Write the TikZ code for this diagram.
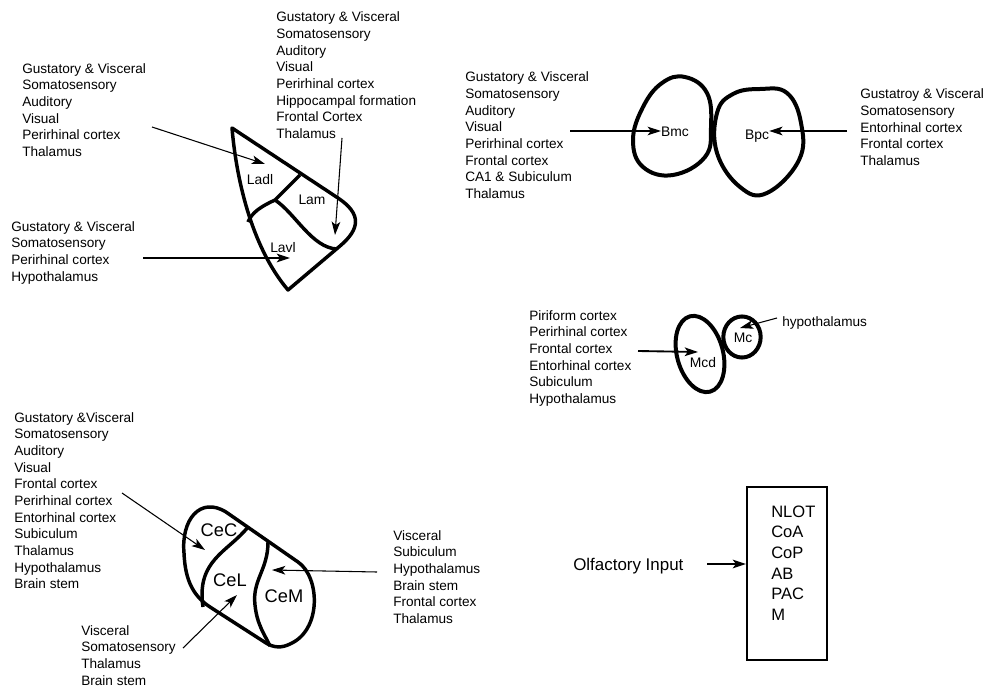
\documentclass[tikz,border=0pt]{standalone}
\usepackage{fontspec}
\setmainfont{Liberation Sans}
\usetikzlibrary{arrows.meta}
\newcommand{\mystack}[1]{\begin{tabular}[t]{@{}l@{}}#1\end{tabular}}
\begin{document}
\begin{tikzpicture}[x=0.75pt,y=-0.75pt,
  txt/.style={anchor=base west, inner sep=0pt, font=\fontsize{10.2pt}{12.5pt}\selectfont},
  boxtxt/.style={anchor=base west, inner sep=0pt, font=\fontsize{12.4pt}{15.5pt}\selectfont},
  lab/.style={inner sep=0pt, font=\fontsize{10.4pt}{12pt}\selectfont},
  celab/.style={inner sep=0pt, font=\fontsize{13.7pt}{16pt}\selectfont},
  arr/.style={-{Stealth[length=10pt,width=6.5pt,inset=2.5pt]}, line width=0.8pt},
  nucleus/.style={line width=2.6pt, line join=round},
  oval/.style={line width=3pt}]
\useasboundingbox (0,0) rectangle (984,688);

% ---------------- Lateral nucleus ----------------
\node[txt] (latA) at (22,73.3) {\mystack{Gustatory \& Visceral\\Somatosensory\\Auditory\\Visual\\Perirhinal cortex\\Thalamus}};
\node[txt] (latB) at (276,21.7) {\mystack{Gustatory \& Visceral\\Somatosensory\\Auditory\\Visual\\Perirhinal cortex\\Hippocampal formation\\Frontal Cortex\\Thalamus}};
\node[txt] (latC) at (11,231) {\mystack{Gustatory \& Visceral\\Somatosensory\\Perirhinal cortex\\Hypothalamus}};

\draw[nucleus] (232,128) -- (338,198) .. controls (362,214) and (360,229) .. (340,246)
  -- (288,290) .. controls (250,245) and (236,175) .. (232,128) -- cycle;
\draw[nucleus] (300,175) -- (275,200) .. controls (262,206) and (252,212) .. (248,222);
\draw[nucleus] (275,200) .. controls (295,213) and (312,248) .. (337,249);

\node[lab] (ladl) at (260,180) {Ladl};
\node[lab] (lam) at (312,200) {Lam};
\node[lab] (lavl) at (283,248) {Lavl};

\coordinate (a1s) at (152,127); \coordinate (a1e) at (265,164);
\coordinate (a2s) at (342,138); \coordinate (a2e) at (335,235);
\coordinate (a3s) at (143,258); \coordinate (a3e) at (290,258);
\draw[arr] (a1s) -- (a1e);
\draw[arr] (a2s) -- (a2e);
\draw[arr] (a3s) -- (a3e);

% ---------------- Basal nucleus ----------------
\node[txt] (basL) at (465,81.7) {\mystack{Gustatory \& Visceral\\Somatosensory\\Auditory\\Visual\\Perirhinal cortex\\Frontal cortex\\CA1 \& Subiculum\\Thalamus}};
\node[txt] (basR) at (860,99) {\mystack{Gustatroy \& Visceral\\Somatosensory\\Entorhinal cortex\\Frontal cortex\\Thalamus}};

\draw[oval] plot[smooth cycle, tension=0.7] coordinates {(685,77) (707,93) (711,127) (705,157) (673,175) (643,167) (633,140) (643,107) (662,83)};
\draw[oval] plot[smooth cycle, tension=0.7] coordinates {(760,89) (787,93) (801,123) (799,160) (767,193) (740,187) (717,153) (717,113) (733,94)};

\node[lab] (bmc) at (675,132) {Bmc};
\node[lab] (bpc) at (757,136) {Bpc};
\coordinate (bmcs) at (570,131);
\coordinate (bpcs) at (847,131);
\draw[arr] (bmcs) -- (bmcs -| bmc.west);
\draw[arr] (bpcs) -- (bpcs -| bpc.east);

% ---------------- Medial nucleus ----------------
\node[txt] (medL) at (529,320) {\mystack{Piriform cortex\\Perirhinal cortex\\Frontal cortex\\Entorhinal cortex\\Subiculum\\Hypothalamus}};
\node[txt] (hypo) at (782,326) {hypothalamus};

\draw[oval, rotate around={15:(700,354)}] (700,354) ellipse [x radius=17.25pt, y radius=29.25pt];
\draw[oval] (742,337) ellipse [x radius=14pt, y radius=15.4pt];

\node[lab] (mc) at (743,338) {Mc};
\node[lab] (mcd) at (703,363) {Mcd};
\coordinate (mcds) at (638,351); \coordinate (mcde) at (698,352);
\coordinate (mcs) at (777,318); \coordinate (mce) at (740,328);
\draw[arr, line width=1.4pt] (mcds) -- (mcde);
\draw[arr] (mcs) -- (mce);

% ---------------- Central nucleus ----------------
\node[txt] (ceA) at (14,422) {\mystack{Gustatory \&Visceral\\Somatosensory\\Auditory\\Visual\\Frontal cortex\\Perirhinal cortex\\Entorhinal cortex\\Subiculum\\Thalamus\\Hypothalamus\\Brain stem}};
\node[txt] (ceB) at (393,540) {\mystack{Visceral\\Subiculum\\Hypothalamus\\Brain stem\\Frontal cortex\\Thalamus}};
\node[txt] (ceCt) at (81,635) {\mystack{Visceral\\Somatosensory\\Thalamus\\Brain stem}};

\draw[nucleus] (184,553) .. controls (181,520) and (200,496) .. (226,512) -- (298,562)
  .. controls (320,577) and (322,630) .. (290,644) .. controls (282,648) and (274,648) .. (266,643)
  -- (210,607) .. controls (190,594) and (185,575) .. (184,553) -- cycle;
\draw[nucleus] (248,527) .. controls (228,552) and (196,560) .. (203,607);
\draw[nucleus] (268,542) .. controls (268,570) and (252,580) .. (255,605) .. controls (257,625) and (265,635) .. (270,646);

\node[celab] (cec) at (219,530) {CeC};
\node[celab] (cel) at (230,580) {CeL};
\node[celab] (cem) at (284,596) {CeM};

\coordinate (c1s) at (122,493); \coordinate (c1e) at (205,550);
\coordinate (c2s) at (183,648); \coordinate (c2e) at (237,595);
\coordinate (c3s) at (377,572); \coordinate (c3e) at (272,570);
\draw[arr] (c1s) -- (c1e);
\draw[arr] (c2s) -- (c2e);
\draw[arr] (c3s) -- (c3e);

% ---------------- Cortical / olfactory box ----------------
\node[draw, line width=1.5pt, minimum width=60pt, minimum height=129.75pt, inner sep=0pt] (box) at (787,573.5) {};
\node[boxtxt] (boxtext) at (771,517) {\mystack{NLOT\\CoA\\CoP\\AB\\PAC\\M}};
\node[anchor=base west, inner sep=0pt, font=\fontsize{12.7pt}{15pt}\selectfont] (olf) at (573,570) {Olfactory Input};
\coordinate (olfs) at (707,564);
\draw[arr, line width=1.1pt] (olfs) -- (olfs -| box.west);
\end{tikzpicture}
\end{document}
